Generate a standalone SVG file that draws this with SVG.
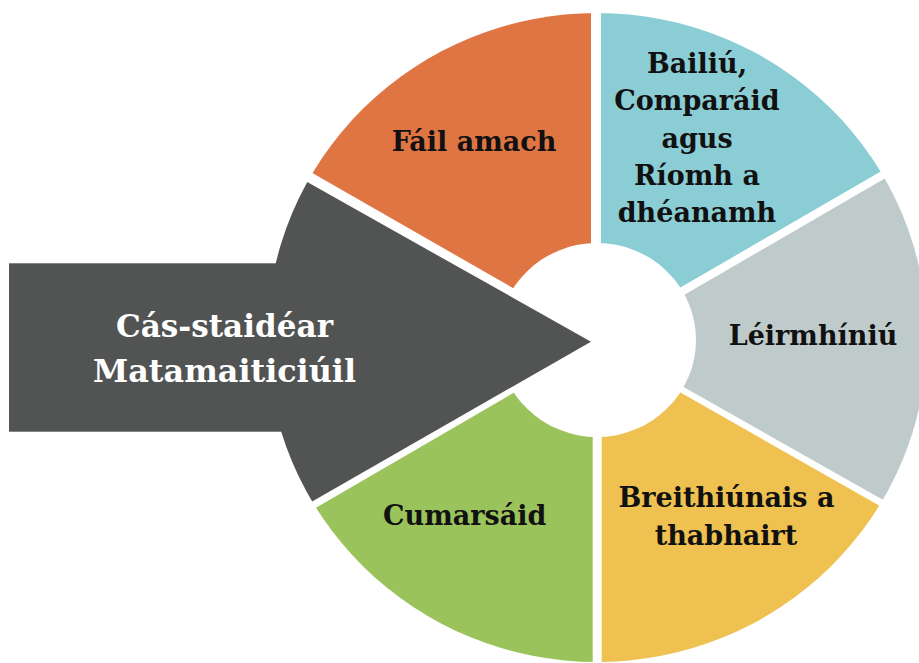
<svg xmlns="http://www.w3.org/2000/svg" width="919" height="663" viewBox="0 0 919 663">
<style>
  .lbl { font-family: "DejaVu Serif", "Liberation Serif", serif; font-weight: bold; font-size: 27px; fill: #111; text-anchor: middle; }
  .title { font-family: "DejaVu Serif", "Liberation Serif", serif; font-weight: bold; font-size: 32px; fill: #fff; text-anchor: middle; }
</style>
<defs>
  <clipPath id="outer">
    <ellipse cx="597" cy="337.5" rx="330" ry="324.5"/>
  </clipPath>
</defs>
<rect width="919" height="663" fill="#fff"/>
<g clip-path="url(#outer)">
  <g id="node-fail-amach">
    <polygon points="591,-10 591,332.7 200,108.7 200,-10" fill="#E07544"/>
  </g>
  <g id="node-bailiu">
    <polygon points="601,-10 601,333.5 1000,102.3 1000,-10" fill="#8BCDD5"/>
  </g>
  <g id="node-leirmhiniu">
    <polygon points="603.5,341.8 1000,111.5 1000,566" fill="#BFCBCB"/>
  </g>
  <g id="node-breithiunais">
    <polygon points="601.7,347.8 1000,574.2 1000,700 601.7,700" fill="#EEC150"/>
  </g>
  <g id="node-cumarsaid">
    <polygon points="592.7,346.8 592.7,700 200,700 200,575.2" fill="#9BC35B"/>
  </g>
</g>
<ellipse id="hub" cx="597" cy="340" rx="99" ry="97" fill="#fff"/>
<g id="node-cas-staidear">
  <polygon points="591,341.7 200,121.7 200,565.8" fill="#525453" clip-path="url(#outer)"/>
  <rect x="9" y="263.3" width="291" height="168.4" fill="#525453"/>
  <text class="title" x="224.5" y="336.7" textLength="217" lengthAdjust="spacingAndGlyphs">Cás-staidéar</text>
  <text class="title" x="224.5" y="381.7" textLength="263" lengthAdjust="spacingAndGlyphs">Matamaiticiúil</text>
</g>
<g id="labels">
  <text class="lbl" x="474" y="151">Fáil amach</text>
  <text class="lbl" x="697" y="73">Bailiú,</text>
  <text class="lbl" x="697" y="110">Comparáid</text>
  <text class="lbl" x="697" y="147.5">agus</text>
  <text class="lbl" x="697" y="184.5">Ríomh a</text>
  <text class="lbl" x="697" y="222">dhéanamh</text>
  <text class="lbl" x="813" y="345">Léirmhíniú</text>
  <text class="lbl" x="726.5" y="506.7">Breithiúnais a</text>
  <text class="lbl" x="726" y="545">thabhairt</text>
  <text class="lbl" x="464.7" y="525">Cumarsáid</text>
</g>
<g id="connectors"/>
</svg>
